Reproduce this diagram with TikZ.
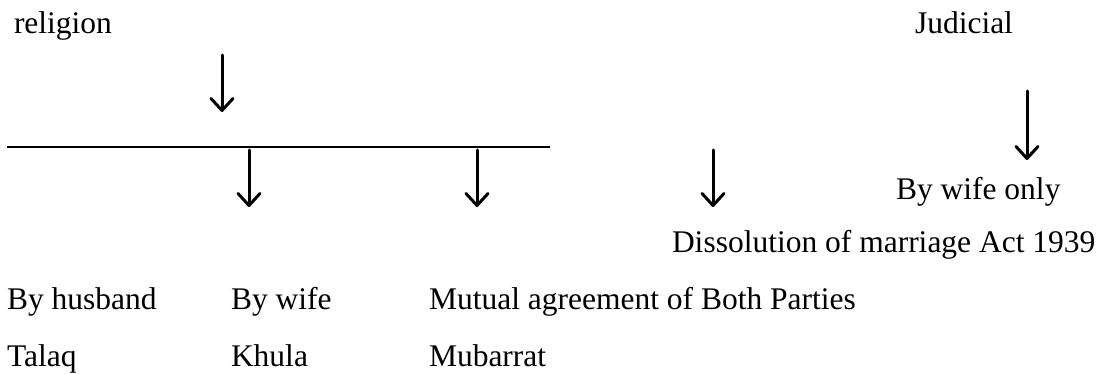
\documentclass[tikz,border=0pt]{standalone}
\usepackage{fontspec}
\setmainfont{Liberation Serif}
\usetikzlibrary{arrows.meta}
\begin{document}
\begin{tikzpicture}[x=1pt,y=-1pt,
  lbl/.style={anchor=base west,inner sep=0pt,outer sep=0pt,font=\fontsize{31.5}{36}\selectfont},
  darrow/.style={line width=3pt,line cap=round,-{Straight Barb[length=12pt,width=22pt,line width=3pt,round]}},
  rule/.style={line width=1.4pt}]
\useasboundingbox (0,0) rectangle (1101,374);
\fill[white] (0,0) rectangle (1101,374);
% texts
\node[lbl] (religion) at (14,34) {religion};
\node[lbl] (judicial) at (915,34) {Judicial};
\node[lbl] (wifeonly) at (896,200) {By wife only};
\node[lbl] (dissolution) at (672,253) {Dissolution of marriage Act 1939};
\node[lbl] (husband) at (7,309) {By husband};
\node[lbl] (bywife) at (231,309) {By wife};
\node[lbl] (mutual) at (429,309) {Mutual agreement of Both Parties};
\node[lbl] (talaq) at (7,366) {Talaq};
\node[lbl] (khula) at (231,366) {Khula};
\node[lbl] (mubarrat) at (429,366) {Mubarrat};
% rule
\coordinate (ruleL) at (7,147);
\coordinate (ruleR) at (550,147);
\draw[rule] (ruleL) -- (ruleR);
% arrows
\coordinate (a1s) at (222,55);  \coordinate (a1e) at (222,112);
\coordinate (a2s) at (249,150); \coordinate (a2e) at (249,207);
\coordinate (a3s) at (477,150); \coordinate (a3e) at (477,207);
\coordinate (a4s) at (713,150); \coordinate (a4e) at (713,207);
\coordinate (a5s) at (1027,91); \coordinate (a5e) at (1027,160);
\draw[darrow] (a1s) -- (a1e);
\draw[darrow] (a2s) -- (a2e);
\draw[darrow] (a3s) -- (a3e);
\draw[darrow] (a4s) -- (a4e);
\draw[darrow] (a5s) -- (a5e);
\end{tikzpicture}
\end{document}
